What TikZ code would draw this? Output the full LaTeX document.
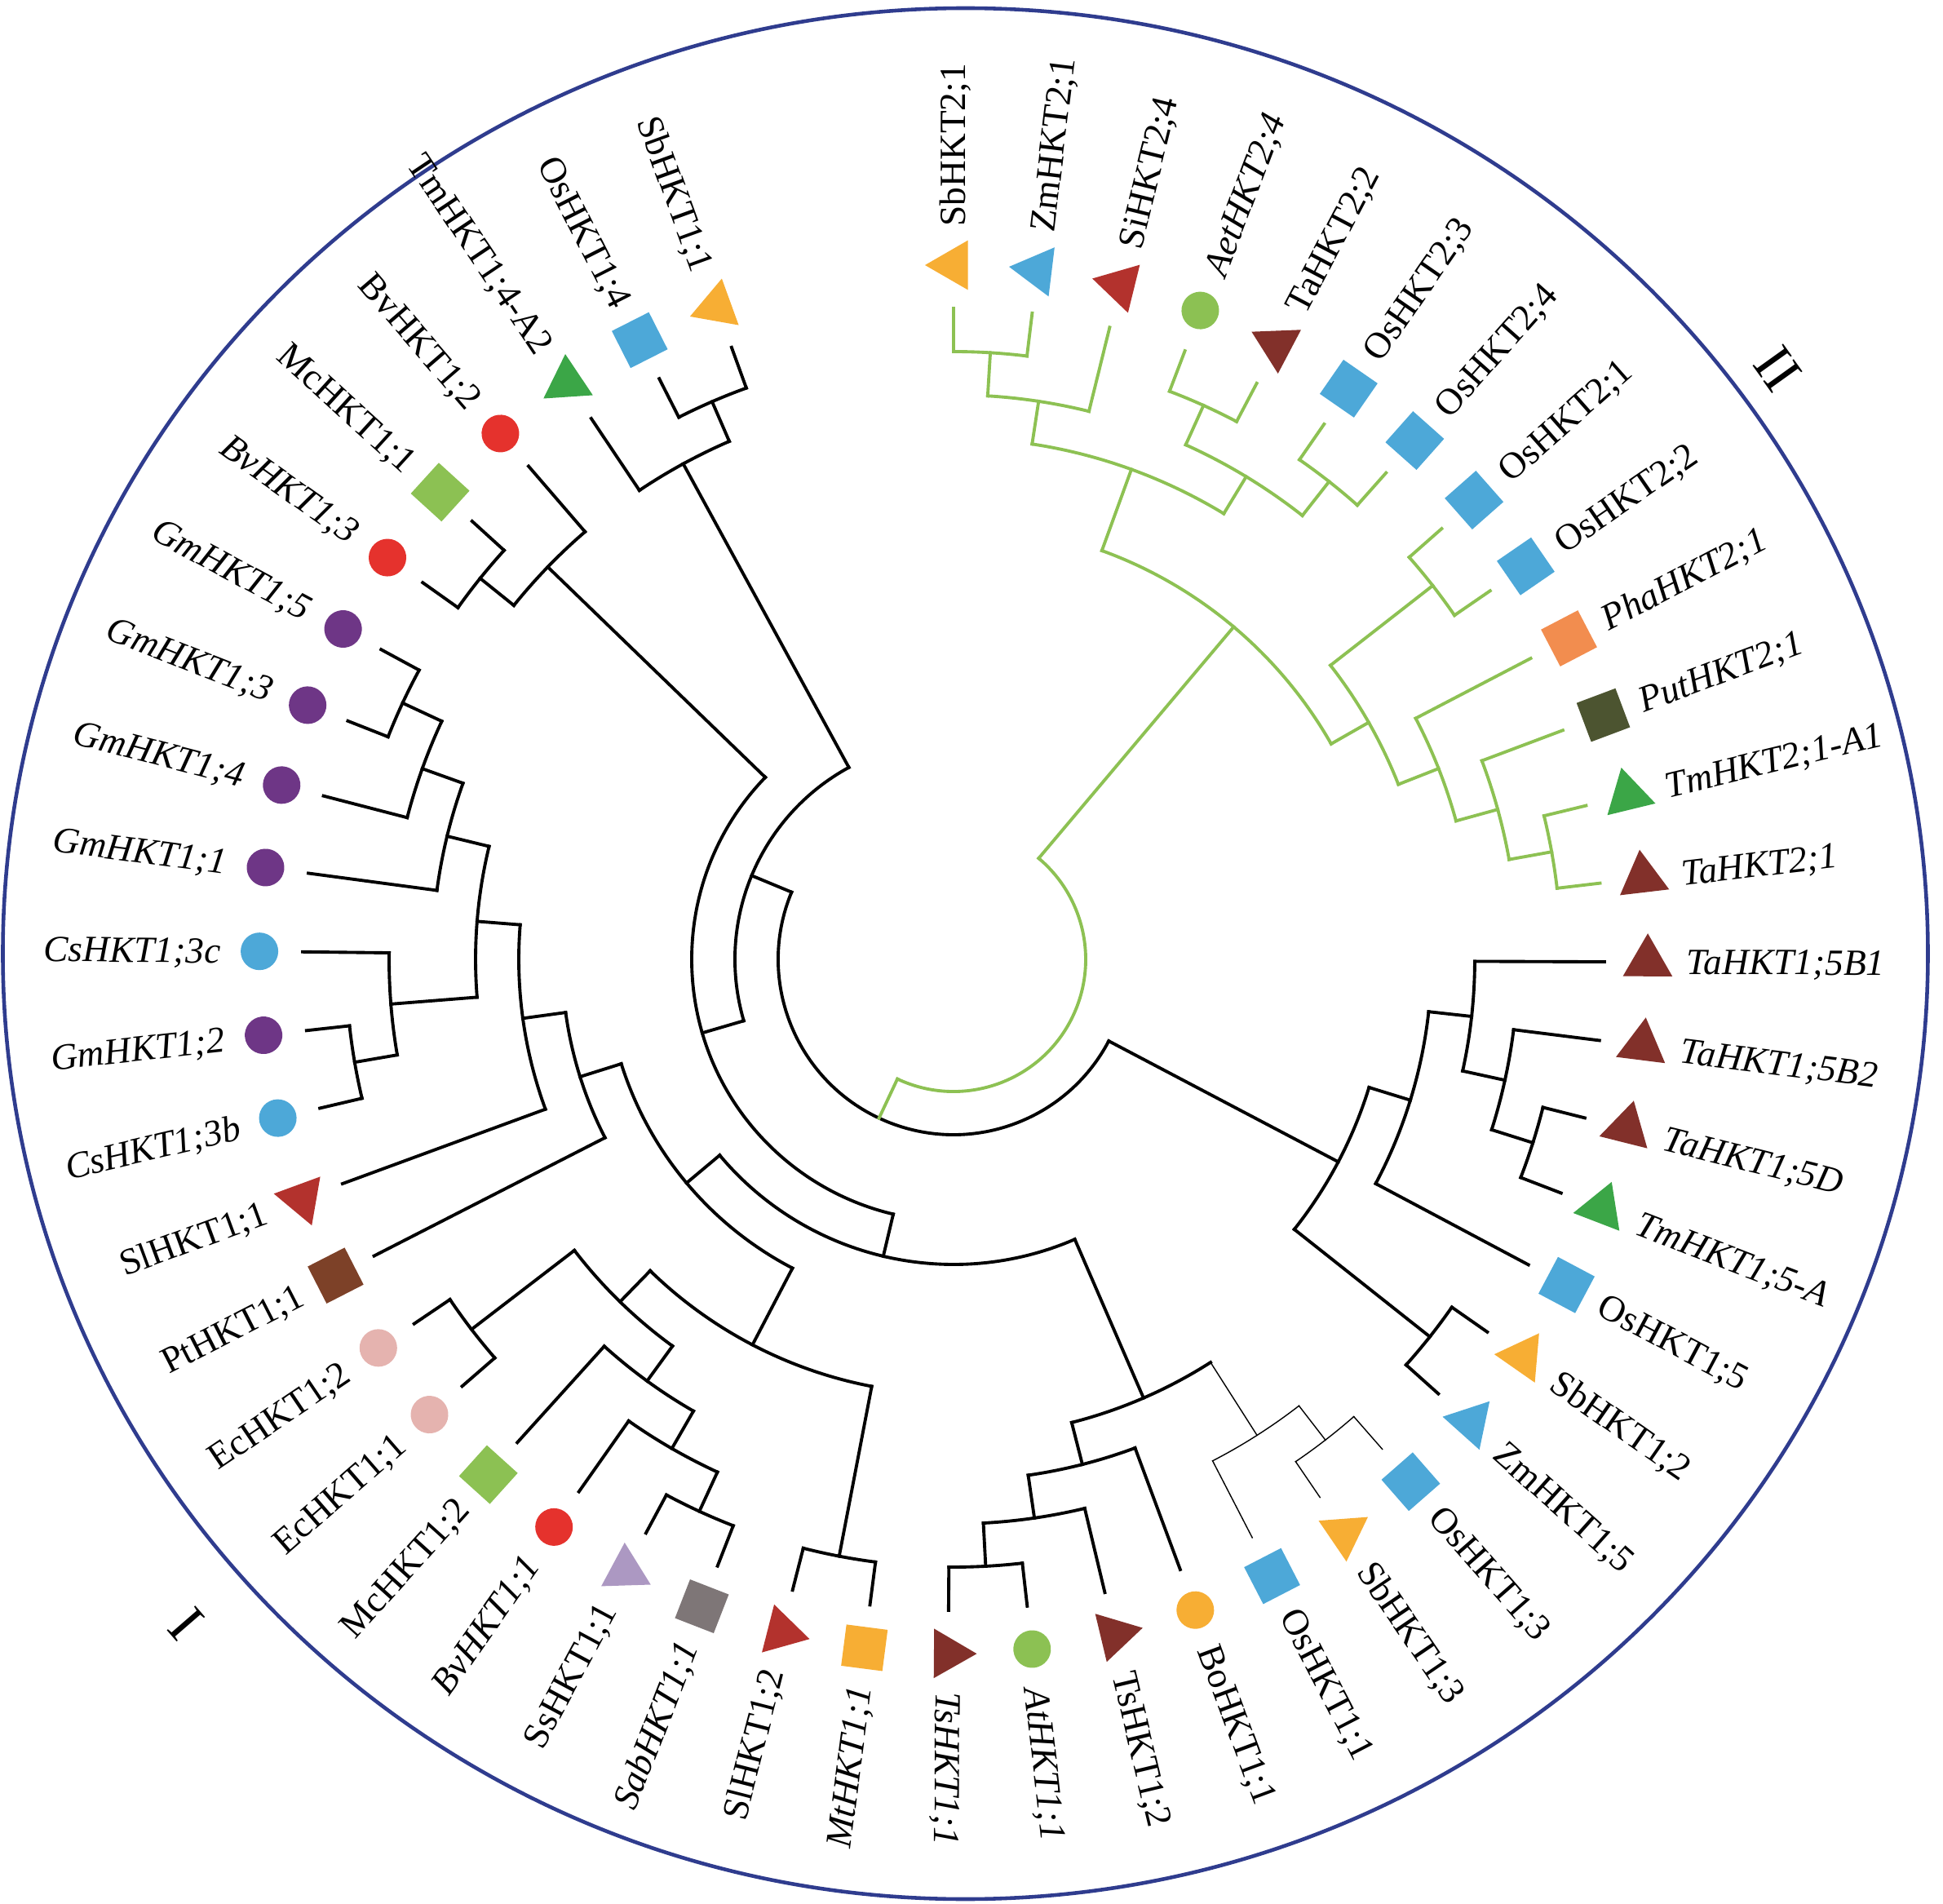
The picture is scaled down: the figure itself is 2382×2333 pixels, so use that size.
\documentclass[tikz,border=0pt]{standalone}
\usepackage{fontspec}
\setmainfont{Liberation Serif}
\usetikzlibrary{shapes.geometric}

\definecolor{sbcol}{HTML}{F7AE34}
\definecolor{oscol}{HTML}{4DA8D8}
\definecolor{sicol}{HTML}{B3322D}
\definecolor{atcol}{HTML}{8CC153}
\definecolor{tacol}{HTML}{82302A}
\definecolor{tmcol}{HTML}{3BA647}
\definecolor{phacol}{HTML}{F28D4F}
\definecolor{putcol}{HTML}{4C5430}
\definecolor{gmcol}{HTML}{6E3686}
\definecolor{bvcol}{HTML}{E5322D}
\definecolor{eccol}{HTML}{E5B3AF}
\definecolor{ptcol}{HTML}{7D4128}
\definecolor{sscol}{HTML}{AC98C2}
\definecolor{sabcol}{HTML}{7E7677}
\definecolor{branchgreen}{HTML}{8DC153}
\definecolor{ringblue}{HTML}{2F3C8E}

\begin{document}
\begin{tikzpicture}[x=0.01cm, y=0.01cm,
    blackbranch/.style={line width=1.1pt, line cap=rect},
    greenbranch/.style={blackbranch, draw=branchgreen},
    thinbranch/.style={line width=0.4pt, line cap=rect},
    symtri/.style={regular polygon, regular polygon sides=3, minimum size=0.70cm, inner sep=0pt},
    symsq/.style={regular polygon, regular polygon sides=4, minimum size=0.72cm, inner sep=0pt},
    symdot/.style={circle, minimum size=0.46cm, inner sep=0pt},
    labup/.style={font=\fontsize{12.9}{15}\selectfont, inner sep=0pt, text height=8.5pt, text depth=0pt},
    labit/.style={labup, font=\fontsize{12.9}{15}\selectfont\itshape}]

        \useasboundingbox (-1169,-1157) rectangle (1213,1176);

        % outer ring and group names
        \draw[ringblue, line width=1.3pt] (14.5,7) ellipse [x radius=1180, y radius=1159];
        \node[font=\fontsize{20}{24}\selectfont, rotate=-54.4] (grpII) at (35.6:1243) {II};
        \node[font=\fontsize{20}{24}\selectfont, rotate=130.9] (grpI) at (220.9:1244) {I};

        % root arc, the green clade hangs from its middle
        \draw[blackbranch] (-202.53:215) arc[start angle=-202.53, end angle=-27.76, radius=215];
        \coordinate (root) at (-115.145:215);
        \draw[greenbranch] (root) -- (-115.145:162) coordinate (G0);
        \draw[greenbranch] (G0) arc[start angle=-115.145, end angle=49.88, radius=162];

        % clades: name/parent level/level/stem/from/to/style, radius = 215+53*level
        \foreach \nm/\pl/\lv/\st/\fa/\fb/\sty in {
            A/0/1/-202.53/-241.385/-163.675/blackbranch,
            B/1/2/-163.675/-224.035/-103.315/blackbranch,
            N1/1/9/-241.385/-246.59/-236.18/blackbranch,
            N2/9/10/-246.59/-250.06/-243.12/blackbranch,
            N3/2/9/-224.035/-229.24/-218.83/blackbranch,
            N4/9/10/-218.83/-222.3/-215.36/blackbranch,
            N15/2/3/-103.315/-140.05/-66.58/blackbranch,
            N13/3/4/-140.05/-162.55/-117.55/blackbranch,
            N12/4/5/-162.55/-172.2/-152.9/blackbranch,
            N11/5/6/-172.2/-184.56/-159.84/blackbranch,
            N10/6/7/-184.56/-193.67/-175.455/blackbranch,
            N7/7/8/-193.67/-199.745/-187.6/blackbranch,
            N6/8/9/-199.745/-204.95/-194.54/blackbranch,
            N5/9/10/-204.95/-208.42/-201.48/blackbranch,
            N9/7/9/-175.455/-180.66/-170.25/blackbranch,
            N8/9/10/-170.25/-173.72/-166.78/blackbranch,
            N14/4/6/-117.55/-134.25/-100.85/blackbranch,
            N18/6/7/-134.25/-142.49/-126.01/blackbranch,
            N17/7/10/-142.49/-145.96/-139.02/blackbranch,
            N19/7/8/-126.01/-132.08/-119.935/blackbranch,
            N20/8/9/-119.935/-125.14/-114.73/blackbranch,
            N21/9/10/-114.73/-118.2/-111.26/blackbranch,
            N22/6/10/-100.85/-104.32/-97.38/blackbranch,
            N23/3/7/-66.58/-75.69/-57.475/blackbranch,
            N24/7/8/-75.69/-81.765/-69.62/blackbranch,
            N25/8/9/-81.765/-86.97/-76.56/blackbranch,
            N26/9/10/-86.97/-90.44/-83.5/blackbranch,
            N27/7/9/-57.475/-62.68/-52.27/thinbranch,
            N28/9/10/-52.27/-55.74/-48.8/thinbranch,
            N29/0/6/-27.76/-38.39/-17.135/blackbranch,
            N30/6/10/-38.39/-41.86/-34.92/blackbranch,
            N31/6/7/-17.135/-27.98/-6.29/blackbranch,
            N32/7/8/-6.29/-12.365/-0.22/blackbranch,
            N33/8/9/-12.365/-17.57/-7.16/blackbranch,
            N34/9/10/-17.57/-21.04/-14.1/blackbranch,
            G1/-1/6/49.88/29.71/70.05/greenbranch,
            G2/6/8/70.05/58.77/81.33/greenbranch,
            G3/8/9/81.33/76.12/86.53/greenbranch,
            G4/9/10/86.53/83.06/90/greenbranch,
            G5/8/9/58.77/51.83/65.71/greenbranch,
            G6/9/10/65.71/62.24/69.18/greenbranch,
            G7/9/10/51.83/48.36/55.3/greenbranch,
            G9/6/7/29.71/21.47/37.95/greenbranch,
            G8/7/10/37.95/34.48/41.42/greenbranch,
            G12/7/8/21.47/15.4/27.54/greenbranch,
            G11/8/9/15.4/10.19/20.6/greenbranch,
            G10/9/10/10.19/6.72/13.66/greenbranch} {
            \pgfmathsetmacro{\rp}{215+53*\pl}
            \pgfmathsetmacro{\rr}{215+53*\lv}
            \draw[\sty] (\st:\rp) -- (\st:\rr) coordinate (\nm);
            \draw[\sty] (\fa:\rr) arc[start angle=\fa, end angle=\fb, radius=\rr];
        }

        % leaves, clockwise from the top, 6.94 degrees apart
        \foreach \lab/\shp/\col/\lv/\fnt/\br [count=\i from 0] in {
            SbHKT2;1/symtri/sbcol/10/labup/greenbranch,
            ZmHKT2;1/symtri/oscol/10/labup/greenbranch,
            SiHKT2;4/symtri/sicol/9/labup/greenbranch,
            AetHKT2;4/symdot/atcol/10/labit/greenbranch,
            TaHKT2;2/symtri/tacol/10/labup/greenbranch,
            OsHKT2;3/symsq/oscol/10/labup/greenbranch,
            OsHKT2;4/symsq/oscol/10/labup/greenbranch,
            OsHKT2;1/symsq/oscol/10/labup/greenbranch,
            OsHKT2;2/symsq/oscol/10/labup/greenbranch,
            PhaHKT2;1/symsq/phacol/8/labit/greenbranch,
            PutHKT2;1/symsq/putcol/9/labit/greenbranch,
            TmHKT2;1-A1/symtri/tmcol/10/labit/greenbranch,
            TaHKT2;1/symtri/tacol/10/labit/greenbranch,
            TaHKT1;5B1/symtri/tacol/8/labit/blackbranch,
            TaHKT1;5B2/symtri/tacol/9/labit/blackbranch,
            TaHKT1;5D/symtri/tacol/10/labit/blackbranch,
            TmHKT1;5-A/symtri/tmcol/10/labit/blackbranch,
            OsHKT1;5/symsq/oscol/7/labup/blackbranch,
            SbHKT1;2/symtri/sbcol/10/labup/blackbranch,
            ZmHKT1;5/symtri/oscol/10/labup/blackbranch,
            OsHKT1;3/symsq/oscol/10/labup/thinbranch,
            SbHKT1;3/symtri/sbcol/10/labup/thinbranch,
            OsHKT1;1/symsq/oscol/9/labup/thinbranch,
            BoHKT1;1/symdot/sbcol/8/labup/blackbranch,
            TsHKT1;2/symtri/tacol/9/labup/blackbranch,
            AtHKT1;1/symdot/atcol/10/labit/blackbranch,
            TsHKT1;1/symtri/tacol/10/labit/blackbranch,
            MtHKT1;1/symsq/sbcol/10/labit/blackbranch,
            SlHKT1;2/symtri/sicol/10/labup/blackbranch,
            SabHKT1;1/symsq/sabcol/10/labit/blackbranch,
            SsHKT1;1/symtri/sscol/10/labup/blackbranch,
            BvHKT1;1/symdot/bvcol/9/labit/blackbranch,
            McHKT1;2/symsq/atcol/8/labup/blackbranch,
            EcHKT1;1/symdot/eccol/10/labup/blackbranch,
            EcHKT1;2/symdot/eccol/10/labup/blackbranch,
            PtHKT1;1/symsq/ptcol/5/labup/blackbranch,
            SlHKT1;1/symtri/sicol/6/labup/blackbranch,
            CsHKT1;3b/symdot/oscol/10/labit/blackbranch,
            GmHKT1;2/symdot/gmcol/10/labit/blackbranch,
            CsHKT1;3c/symdot/oscol/9/labit/blackbranch,
            GmHKT1;1/symdot/gmcol/8/labit/blackbranch,
            GmHKT1;4/symdot/gmcol/9/labit/blackbranch,
            GmHKT1;3/symdot/gmcol/10/labit/blackbranch,
            GmHKT1;5/symdot/gmcol/10/labit/blackbranch,
            BvHKT1;3/symdot/bvcol/10/labit/blackbranch,
            McHKT1;1/symsq/atcol/10/labup/blackbranch,
            BvHKT1;2/symdot/bvcol/9/labup/blackbranch,
            TmHKT1;4-A2/symtri/tmcol/9/labup/blackbranch,
            OsHKT1;4/symsq/oscol/10/labup/blackbranch,
            SbHKT1;1/symtri/sbcol/10/labup/blackbranch} {
            \pgfmathsetmacro{\ang}{90-6.94*\i}
            \pgfmathsetmacro{\rp}{215+53*\lv}
            \draw[\br] (\ang:\rp) -- (\ang:798) coordinate (t\i);
            \node[\shp, fill=\col, rotate=\ang] (s\i) at (\ang:851) {};
            \ifnum\i<27
                \node[\fnt, rotate=\ang, anchor=west] (l\i) at (\ang:898) {\lab};
            \else
                \pgfmathsetmacro{\angflip}{\ang+180}
                \node[\fnt, rotate=\angflip, anchor=east] (l\i) at (\ang:898) {\lab};
            \fi
        }

    \end{tikzpicture}
\end{document}
